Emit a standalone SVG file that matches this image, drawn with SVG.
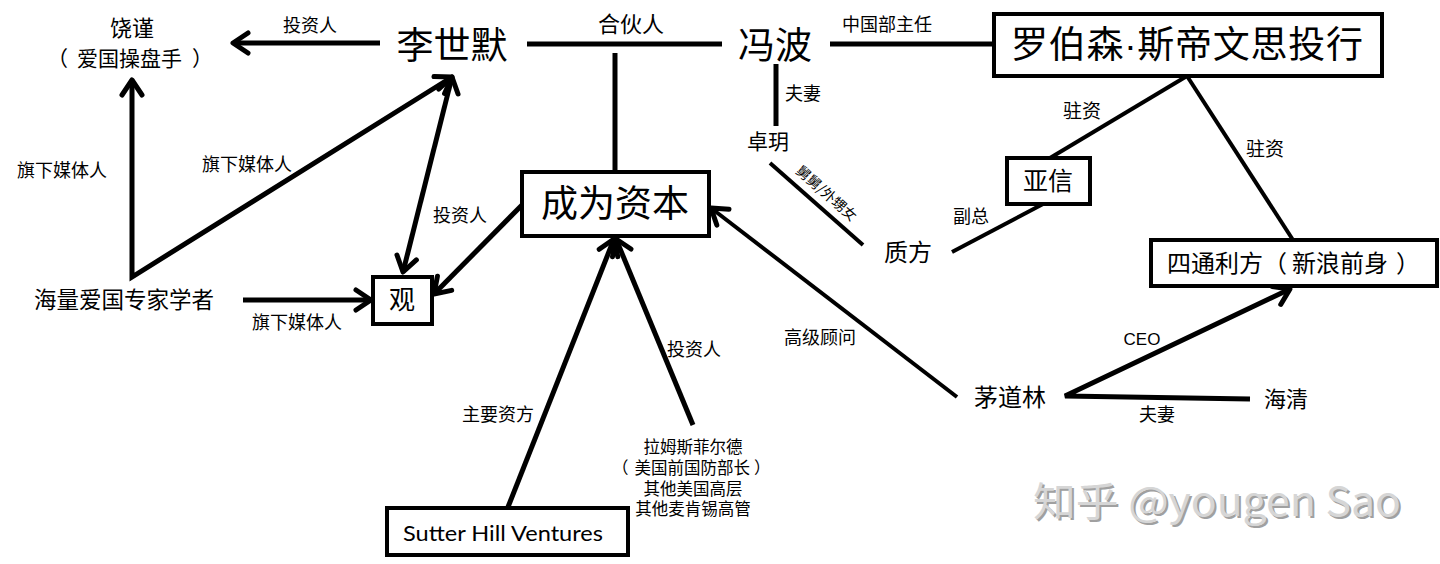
<svg xmlns="http://www.w3.org/2000/svg" width="1440" height="564" viewBox="0 0 1440 564">
<style>
.t{font-family:"Noto Sans CJK SC","Noto Sans",sans-serif;fill:#000;}
.c{text-anchor:middle;}
.box{fill:#fff;stroke:#000;stroke-width:4;}
.ln{stroke:#000;stroke-width:5;fill:none;}
.thin{stroke:#000;stroke-width:4;fill:none;}
.arr{marker-end:url(#ah);}
.lat{font-family:"Liberation Sans",Arial,sans-serif;}
</style>
<defs>
<marker id="ah" viewBox="-20 -14 26 28" refX="0" refY="0" markerWidth="26" markerHeight="28" markerUnits="userSpaceOnUse" orient="auto-start-reverse" overflow="visible">
<path d="M-15,-10 L0,0 L-15,10" fill="none" stroke="#000" stroke-width="5" stroke-linecap="round" stroke-linejoin="round"/>
</marker>
</defs>
<rect width="1440" height="564" fill="#fff"/>

<g id="connectors">
<line class="ln arr" x1="380" y1="43" x2="233" y2="43"/>
<line class="ln" x1="527" y1="44" x2="722" y2="44"/>
<line class="ln" x1="615" y1="53" x2="615" y2="172"/>
<line class="ln" x1="830" y1="44" x2="994" y2="44"/>
<line class="ln" x1="776" y1="64" x2="776" y2="126"/>
<line class="thin" x1="770" y1="163" x2="863" y2="245"/>
<line class="thin" x1="952" y1="252" x2="1043" y2="204"/>
<line class="thin" x1="1050" y1="158" x2="1187" y2="76"/>
<line class="thin" x1="1187" y1="76" x2="1293" y2="240"/>
<polyline class="ln" points="1250,399 1065,396 1290,289" style="marker-end:url(#ah)"/>
<line class="thin arr" x1="957" y1="397" x2="711" y2="208"/>
<line class="ln arr" x1="508" y1="507" x2="614" y2="239"/>
<line class="ln arr" x1="693" y1="425" x2="616" y2="239"/>
<line class="ln arr" x1="522" y1="205" x2="434" y2="294"/>
<line class="ln arr" x1="452" y1="77" x2="403" y2="272" style="marker-start:url(#ah)"/>
<polyline class="ln" points="452,77 132,277 132,80" style="marker-start:url(#ah);marker-end:url(#ah)"/>
<line class="ln arr" x1="243" y1="300" x2="371" y2="300"/>
</g>

<g id="edge-labels">
<text class="t c" x="310" y="32" font-size="18">投资人</text>
<text class="t c" x="631" y="32" font-size="22">合伙人</text>
<text class="t c" x="887" y="31" font-size="18">中国部主任</text>
<text class="t" x="785" y="100" font-size="18">夫妻</text>
<text class="t" x="0" y="0" font-size="14" transform="translate(795,172) rotate(41.4)">舅舅/外甥女</text>
<text class="t c" x="1082" y="118" font-size="19">驻资</text>
<text class="t c" x="1265" y="156" font-size="19">驻资</text>
<text class="t" x="953" y="223" font-size="18">副总</text>
<text class="t c" x="62" y="177" font-size="18">旗下媒体人</text>
<text class="t c" x="247" y="171" font-size="18">旗下媒体人</text>
<text class="t c" x="460" y="222" font-size="18">投资人</text>
<text class="t c" x="297" y="329" font-size="18">旗下媒体人</text>
<text class="t c" x="820" y="344" font-size="18">高级顾问</text>
<text class="t c" x="694" y="356" font-size="18">投资人</text>
<text class="t c" x="498" y="421" font-size="18">主要资方</text>
<text class="lat c" x="1142" y="345" font-size="17">CEO</text>
<text class="t c" x="1157" y="421" font-size="18">夫妻</text>
</g>

<g id="node-raojin">
<text class="t c" x="132" y="36" font-size="22">饶谨</text>
<text class="t" x="57" y="66" font-size="21"><tspan dx="-10">（</tspan><tspan dx="9">爱国操盘手</tspan><tspan dx="10">）</tspan></text>
</g>
<g id="node-lishimo">
<text class="t c" x="452" y="59" font-size="37">李世默</text>
</g>
<g id="node-fengbo">
<text class="t c" x="775" y="59" font-size="37">冯波</text>
</g>
<g id="node-robertson">
<rect class="box" x="994" y="14" width="388" height="62"/>
<text class="t" x="1011" y="58" font-size="37" textLength="352" lengthAdjust="spacing">罗伯森<tspan font-family="'Liberation Sans',sans-serif">·</tspan>斯帝文思投行</text>
</g>
<g id="node-zhuoyue">
<text class="t c" x="768" y="149" font-size="21">卓玥</text>
</g>
<g id="node-yaxin">
<rect class="box" x="1007" y="158" width="83" height="46"/>
<text class="t c" x="1048" y="190" font-size="25">亚信</text>
</g>
<g id="node-zhifang">
<text class="t c" x="908" y="261" font-size="24">质方</text>
</g>
<g id="node-sitong">
<rect class="box" x="1151" y="240" width="286" height="46"/>
<text class="t" x="1167" y="272" font-size="24">四通利方<tspan dx="0">（</tspan><tspan dx="5">新浪前身</tspan><tspan dx="8">）</tspan></text>
</g>
<g id="node-chengwei">
<rect class="box" x="522" y="172" width="187" height="64"/>
<text class="t c" x="615" y="217" font-size="37">成为资本</text>
</g>
<g id="node-haoliang">
<text class="t c" x="124" y="308" font-size="22.5">海量爱国专家学者</text>
</g>
<g id="node-guan">
<rect class="box" x="373" y="277" width="59" height="47"/>
<text class="t c" x="402" y="309" font-size="26">观</text>
</g>
<g id="node-rumsfeld">
<text class="t" font-size="16.5"><tspan class="c" x="693" y="453">拉姆斯菲尔德</tspan><tspan x="612" y="474">（</tspan><tspan dx="6">美国前国防部长</tspan><tspan dx="4">）</tspan><tspan class="c" x="693" y="494.5">其他美国高层</tspan><tspan class="c" x="693" y="515">其他麦肯锡高管</tspan></text>
</g>
<g id="node-sutter">
<rect class="box" x="387" y="508" width="241" height="47"/>
<text class="c" x="503" y="541" font-size="22" font-family="Lato,'Liberation Sans',sans-serif" textLength="200" lengthAdjust="spacingAndGlyphs">Sutter Hill Ventures</text>
</g>
<g id="node-maodaolin">
<text class="t c" x="1010" y="406" font-size="24">茅道林</text>
</g>
<g id="node-haiqing">
<text class="t c" x="1286" y="407" font-size="22">海清</text>
</g>

<g id="watermark">
<text class="t" x="1035" y="518" font-size="40" style="fill:#a0a0a0" textLength="368" lengthAdjust="spacingAndGlyphs">知乎 @yougen Sao</text>
<text class="t" x="1033" y="516" font-size="40" style="fill:#d6d6d6" textLength="368" lengthAdjust="spacingAndGlyphs">知乎 @yougen Sao</text>
</g>
</svg>
